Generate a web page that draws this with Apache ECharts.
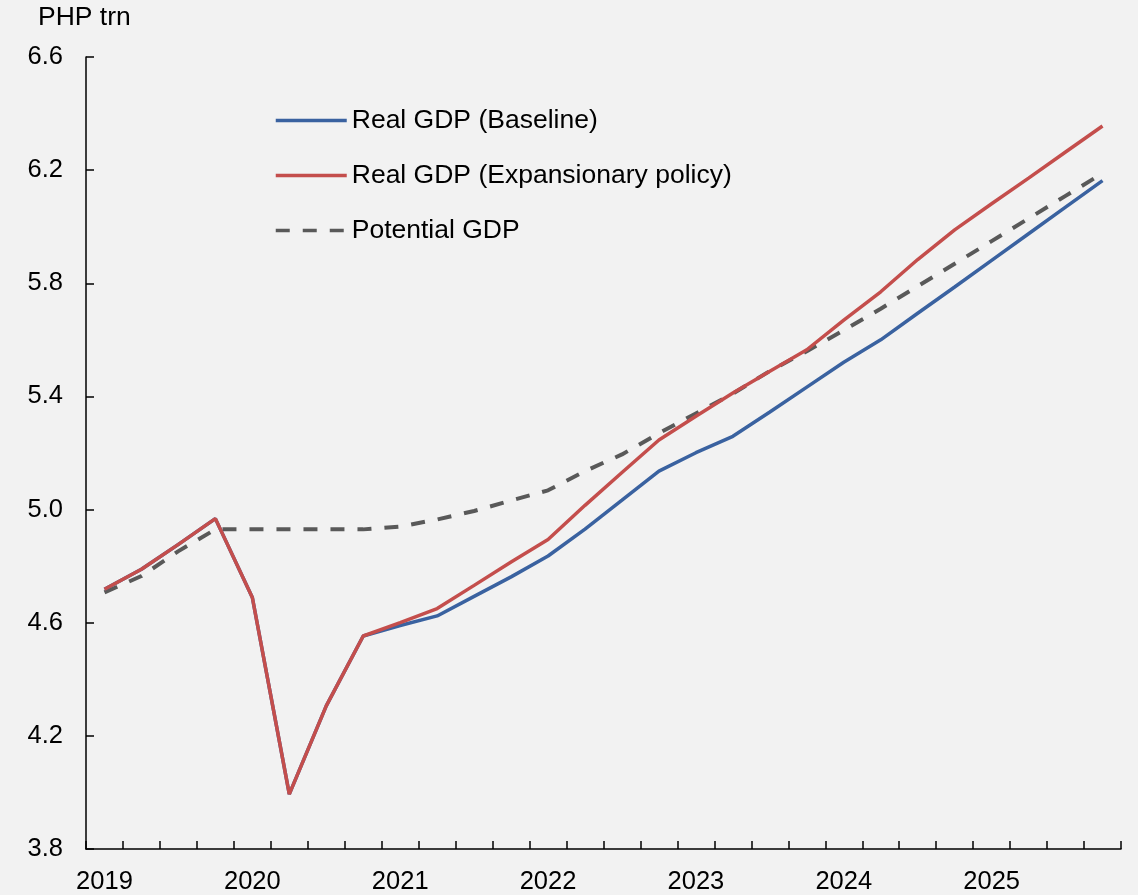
<!DOCTYPE html>
<html>
<head>
<meta charset="utf-8">
<script src="https://cdn.jsdelivr.net/npm/echarts@6/dist/echarts.min.js"></script>
<style>
html,body{margin:0;padding:0;background:#f2f2f2;}
#chart{width:1138px;height:895px;}
</style>
</head>
<body>
<div id="chart"></div>
<script>
var years = ['2019','2020','2021','2022','2023','2024','2025'];
var quarters = ['Q1','Q2','Q3','Q4'];
var categories = [];
years.forEach(function(y){ quarters.forEach(function(q){ categories.push(y + q); }); });

var baseline = [4.718,4.789,4.877,4.968,4.689,3.994,4.306,4.553,
  4.590,4.624,4.693,4.762,4.836,4.931,5.033,5.136,
  5.201,5.259,5.345,5.433,5.521,5.600,5.694,5.787,
  5.881,5.975,6.069,6.163];
var expansionary = [4.718,4.789,4.877,4.968,4.689,3.994,4.306,4.553,
  4.600,4.650,4.732,4.815,4.894,5.015,5.131,5.246,
  5.330,5.412,5.489,5.565,5.670,5.770,5.884,5.989,
  6.081,6.172,6.264,6.356];
var potential = [4.707,4.765,4.853,4.930,4.930,4.930,4.930,4.930,
  4.940,4.965,4.995,5.032,5.068,5.136,5.195,5.270,
  5.340,5.410,5.490,5.560,5.634,5.710,5.790,5.869,
  5.949,6.029,6.109,6.189];
var seriesNames = ['Real GDP (Baseline)','Real GDP (Expansionary policy)','Potential GDP'];
var yTicks = {min: 3.8, max: 6.6, interval: 0.4};
var unitLabel = 'PHP trn';

var chart = echarts.init(document.getElementById('chart'), null, {renderer:'canvas'});
var font = 'Liberation Sans, Arial, sans-serif';
chart.setOption({
  backgroundColor: '#f2f2f2',
  animation: false,
  grid: {left: 86, right: 17, top: 57, bottom: 45, containLabel: false},
  graphic: [{
    type: 'text', left: 38, top: 4,
    style: {text: unitLabel, fontSize: 26.5, fontFamily: font, fill: '#000'}
  }],
  legend: {
    show: true,
    orient: 'vertical',
    left: 269,
    top: 102,
    itemWidth: 71,
    itemHeight: 20,
    itemGap: 28,
    itemStyle: {opacity: 0},
    lineStyle: {width: 3.5},
    textStyle: {fontSize: 26.5, fontFamily: font, color: '#000'},
    data: [seriesNames[0], seriesNames[1], seriesNames[2]]
  },
  xAxis: {
    type: 'category', data: categories, boundaryGap: true,
    axisLine: {lineStyle: {color: '#000', width: 1.5}},
    axisTick: {show: true, inside: true, length: 8, interval: 0, lineStyle: {color: '#000', width: 1.5}},
    axisLabel: {
      interval: 3, margin: 20, fontSize: 25.5, fontFamily: font, color: '#000',
      formatter: function(v){ return v.slice(0,4); }
    },
    splitLine: {show: false}
  },
  yAxis: {
    type: 'value', min: yTicks.min, max: yTicks.max, interval: yTicks.interval,
    axisLine: {show: true, lineStyle: {color: '#000', width: 1.5}},
    axisTick: {show: true, inside: true, length: 8, lineStyle: {color: '#000', width: 1.5}},
    axisLabel: {margin: 23, fontSize: 25.5, fontFamily: font, color: '#000',
      formatter: function(v){ return v.toFixed(1); }},
    splitLine: {show: false}
  },
  series: [
    {name: seriesNames[0], type: 'line', data: baseline, symbol: 'none', showSymbol: false, z: 2,
      lineStyle: {color: '#3a62a0', width: 3.5}, itemStyle: {color: '#3a62a0'}},
    {name: seriesNames[1], type: 'line', data: expansionary, symbol: 'none', showSymbol: false, z: 3,
      lineStyle: {color: '#c44e4c', width: 3.5}, itemStyle: {color: '#c44e4c'}},
    {name: seriesNames[2], type: 'line', data: potential, symbol: 'none', showSymbol: false, z: 1,
      lineStyle: {color: '#595959', width: 4, type: [14, 13]}, itemStyle: {color: '#595959'}}
  ]
});
</script>
</body>
</html>
